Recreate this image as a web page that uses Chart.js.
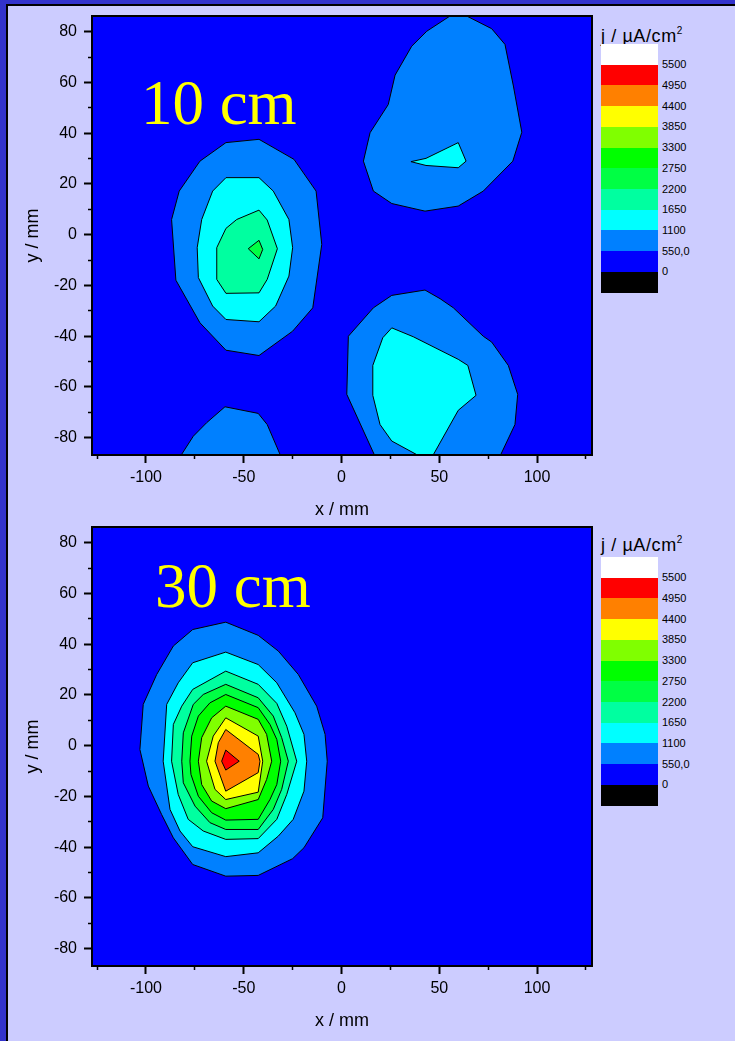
<!DOCTYPE html>
<html>
<head>
<meta charset="utf-8">
<script src="https://cdn.jsdelivr.net/npm/chart.js@4.4.1/dist/chart.umd.min.js"></script>
<style>
  body { margin:0; width:735px; height:1041px; background:#ccccff; position:relative; overflow:hidden;
         font-family:"Liberation Sans", Arial, sans-serif; }
  .bandTop { position:absolute; left:0; top:0; width:735px; height:4px; background:#3333cc; }
  .bandLeft { position:absolute; left:0; top:0; width:6px; height:1041px; background:#3333cc; }
  .lineTop { position:absolute; left:6px; top:4px; width:729px; height:1.5px; background:#000; }
  .lineLeft { position:absolute; left:6px; top:4px; width:2px; height:1037px; background:#000; }
  canvas { position:absolute; left:0; }
  .cbar { position:absolute; left:601px; width:130px; }
  .cbar .ttl { position:absolute; left:0; white-space:nowrap; font-size:18px; line-height:18px; letter-spacing:0.6px; color:#000; }
  .cbar .ttl sup { font-size:10px; vertical-align:8px; line-height:0; letter-spacing:0; }
  .cbar .box { position:absolute; left:0; width:57px; }
  .cbar .lab { position:absolute; left:61px; font-size:11px; line-height:11px; color:#000; }
</style>
</head>
<body>
<div class="bandTop"></div><div class="bandLeft"></div><div class="lineTop"></div><div class="lineLeft"></div>
<canvas id="map10" width="600" height="525" style="top:0px"></canvas>
<canvas id="map30" width="600" height="525" style="top:511px"></canvas>
<div class="cbar" id="bar10" style="top:44px"></div>
<div class="cbar" id="bar30" style="top:557px"></div>
<script>
// contour levels (µA/cm²) and the colour of each band (below 0, 0-550, ..., above 5500)
const levels = [0, 550, 1100, 1650, 2200, 2750, 3300, 3850, 4400, 4950, 5500];
const levelLabels = ['0', '550,0', '1100', '1650', '2200', '2750', '3300', '3850', '4400', '4950', '5500'];
const bandColors = ['#000000', '#0000ff', '#0080ff', '#00ffff', '#00ffa0', '#00ff44', '#00ff00',
                    '#80ff00', '#ffff00', '#ff8000', '#ff0000', '#ffffff'];

// axes
const xMin = -127.6, xMax = 128.1;
const yMin = -86.8, yMax = 86.2;
const xMajorTicks = [-100, -50, 0, 50, 100];
const xMinorTicks = [-125, -75, -25, 25, 75, 125];
const yMajorTicks = [-80, -60, -40, -20, 0, 20, 40, 60, 80];
const yMinorTicks = [-70, -50, -30, -10, 10, 30, 50, 70];

// 10 cm map: contour polygons [x mm, y mm]
const c10_left550 = [[-59.1,36.3],[-42.2,37.6],[-24.3,29.7],[-13.0,17.2],[-10.1,-3.8],[-14.7,-28.8],[-25.0,-38.0],[-42.2,-47.6],[-59.1,-45.5],[-72.4,-34.7],[-84.7,-17.9],[-86.9,6.0],[-83.0,17.2],[-72.4,29.0]];
const c10_left1100 = [[-59.1,22.5],[-42.2,22.5],[-34.9,17.2],[-26.9,6.0],[-25.0,-5.1],[-26.9,-16.3],[-33.7,-28.1],[-42.2,-34.3],[-59.1,-33.4],[-65.9,-28.1],[-73.2,-16.9],[-73.8,-5.1],[-71.5,6.0],[-65.9,17.2]];
const c10_left1650 = [[-42.2,9.7],[-38.0,5.8],[-32.8,-5.5],[-38.0,-17.6],[-42.2,-22.9],[-59.1,-23.1],[-63.8,-17.6],[-63.8,-5.1],[-59.1,2.5],[-53.6,6.0]];
const c10_left2200 = [[-47.7,-5.5],[-42.2,-2.2],[-40.3,-5.8],[-42.2,-9.5]];
const c10_upper550 = [[55.5,86.2],[64.0,86.2],[76.8,81.2],[83.6,75.0],[87.9,58.6],[92.2,40.4],[87.6,29.0],[72.5,17.2],[59.7,11.3],[42.7,9.3],[25.7,12.3],[16.3,17.2],[11.2,29.0],[14.6,40.2],[23.9,51.3],[27.4,62.9],[35.9,74.3],[43.6,80.2]];
const c10_upper1100 = [[35.5,28.8],[43.2,30.1],[59.7,36.3],[63.7,29.0],[59.7,26.4],[43.2,27.3]];
const c10_lower550 = [[21.7,-95],[2.7,-62.9],[3.5,-40.0],[16.3,-28.8],[25.7,-23.9],[42.7,-21.8],[50.4,-25.2],[57.2,-28.8],[72.5,-40.0],[76.8,-42.3],[85.3,-51.5],[90.1,-62.9],[88.7,-74.8],[76.3,-95]];
const c10_lower1100 = [[25.7,-36.7],[36.7,-40.2],[59.7,-49.1],[64.6,-51.5],[68.8,-63.3],[59.7,-69.2],[46.0,-88],[41.7,-88],[25.7,-81.3],[19.7,-74.8],[16.0,-63.3],[16.0,-51.5],[21.1,-40.6]];
const c10_corner550 = [[-86.3,-92],[-75.8,-79.4],[-69.0,-74.1],[-59.6,-67.8],[-42.6,-70.4],[-38.0,-74.8],[-28.4,-92]];

// 30 cm map
const c30_550 = [[-59.2,48.7],[-42.6,43.5],[-32.3,37.3],[-22.1,28.1],[-12.7,15.6],[-8.4,4.5],[-7.3,-6.1],[-9.6,-28.4],[-19.2,-40.2],[-25.0,-44.5],[-42.6,-51.1],[-59.2,-51.4],[-76.1,-46.8],[-86.0,-36.3],[-92.0,-27.1],[-98.8,-15.9],[-103.1,-1.5],[-101.4,16.3],[-94.5,28.1],[-86.0,39.3],[-76.1,45.8]];
const c30_1100 = [[-59.2,36.9],[-42.6,32.0],[-33.1,24.8],[-23.8,13.0],[-19.2,4.5],[-17.8,-6.1],[-19.2,-17.9],[-24.7,-29.0],[-32.3,-35.6],[-42.6,-42.2],[-59.2,-43.7],[-76.1,-39.8],[-82.6,-33.6],[-87.7,-25.1],[-91.2,-6.1],[-89.4,16.3],[-83.5,24.8],[-76.1,32.7]];
const c30_1650 = [[-59.2,29.4],[-42.6,24.2],[-33.1,16.7],[-28.0,7.7],[-22.9,-6.1],[-28.0,-19.2],[-33.1,-29.0],[-42.6,-36.6],[-59.2,-36.9],[-70.7,-33.6],[-78.4,-29.0],[-83.5,-19.2],[-86.9,-6.1],[-86.0,8.4],[-81.7,15.6],[-76.1,22.2]];
const c30_2200 = [[-59.2,24.2],[-42.6,18.9],[-34.9,11.7],[-30.6,3.2],[-27.2,-6.1],[-30.6,-17.2],[-34.9,-25.1],[-42.6,-33.0],[-59.2,-33.0],[-67.3,-30.3],[-74.9,-23.8],[-80.9,-14.6],[-81.7,-6.1],[-80.9,5.1],[-75.8,16.3],[-70.7,20.2]];
const c30_2750 = [[-59.2,20.2],[-42.6,15.0],[-36.6,8.4],[-33.1,2.5],[-31.1,-6.1],[-33.1,-15.3],[-36.6,-21.2],[-42.6,-29.0],[-59.2,-29.3],[-66.4,-26.4],[-73.2,-19.9],[-77.0,-11.3],[-77.5,-6.1],[-76.6,3.8],[-73.2,11.7],[-67.3,16.9]];
const c30_3300 = [[-59.2,15.6],[-42.6,10.4],[-38.3,4.5],[-35.7,-6.1],[-38.3,-13.3],[-42.6,-21.2],[-59.2,-24.8],[-66.4,-21.8],[-71.5,-15.3],[-73.2,-6.1],[-71.5,3.2],[-66.4,11.0]];
const c30_3850 = [[-59.2,11.0],[-42.6,3.8],[-40.3,-6.1],[-42.6,-18.3],[-59.2,-21.2],[-64.7,-17.2],[-69.0,-6.1],[-65.6,3.8]];
const c30_4400 = [[-59.2,6.4],[-42.6,-3.4],[-41.7,-6.1],[-42.6,-10.6],[-59.2,-17.9],[-64.7,-6.1],[-63.0,1.2]];
const c30_4950 = [[-59.2,-1.7],[-52.3,-6.1],[-59.2,-9.6],[-61.3,-6.1]];

const map10 = [
  {level: 550, pts: c10_left550}, {level: 550, pts: c10_upper550}, {level: 550, pts: c10_lower550}, {level: 550, pts: c10_corner550},
  {level: 1100, pts: c10_left1100}, {level: 1100, pts: c10_upper1100}, {level: 1100, pts: c10_lower1100},
  {level: 1650, pts: c10_left1650}, {level: 2200, pts: c10_left2200}
];
const map30 = [
  {level: 550, pts: c30_550}, {level: 1100, pts: c30_1100}, {level: 1650, pts: c30_1650},
  {level: 2200, pts: c30_2200}, {level: 2750, pts: c30_2750}, {level: 3300, pts: c30_3300},
  {level: 3850, pts: c30_3850}, {level: 4400, pts: c30_4400}, {level: 4950, pts: c30_4950}
];

Chart.defaults.font.family = '"Liberation Sans", Arial, sans-serif';
Chart.defaults.color = '#000';

function bandColor(level) {
  return bandColors[levels.indexOf(level) + 1];
}

// blue background of the map, black frame and the distance label
const framePlugin = {
  id: 'frame',
  beforeDatasetsDraw(chart) {
    const a = chart.chartArea, ctx = chart.ctx;
    ctx.save();
    ctx.fillStyle = bandColors[1];
    ctx.fillRect(a.left, a.top, a.width, a.height);
    ctx.restore();
  },
  afterDatasetsDraw(chart, args, opts) {
    const a = chart.chartArea, ctx = chart.ctx;
    ctx.save();
    ctx.fillStyle = '#ffff00';
    ctx.font = '63px "Liberation Serif", "Times New Roman", serif';
    ctx.textBaseline = 'alphabetic';
    ctx.fillText(opts.text, chart.scales.x.getPixelForValue(opts.x), chart.scales.y.getPixelForValue(opts.y));
    ctx.strokeStyle = '#000';
    ctx.lineWidth = 2;
    ctx.strokeRect(a.left, a.top, a.width, a.height);
    ctx.restore();
  }
};

function makeMap(id, contours, label, lx, ly) {
  const datasets = contours.map((c, i) => ({
    data: c.pts.concat([c.pts[0]]).map(p => ({x: p[0], y: p[1]})),
    showLine: true,
    fill: 'shape',
    backgroundColor: bandColor(c.level),
    borderColor: '#000',
    borderWidth: 1,
    pointRadius: 0,
    pointHoverRadius: 0,
    tension: 0,
    order: -i
  }));
  const tickFont = {size: 16};
  new Chart(document.getElementById(id), {
    type: 'scatter',
    data: {datasets},
    plugins: [framePlugin],
    options: {
      responsive: false,
      devicePixelRatio: 1,
      animation: false,
      events: [],
      layout: {padding: {left: 0, right: 8, top: 16, bottom: 0}},
      plugins: {
        legend: {display: false},
        tooltip: {enabled: false},
        frame: {text: label, x: lx, y: ly}
      },
      scales: {
        x: {
          type: 'linear', position: 'bottom', min: xMin, max: xMax, weight: 1,
          afterBuildTicks: s => { s.ticks = xMajorTicks.map(v => ({value: v})); },
          afterFit: s => { s.height = 70; s.paddingLeft = 0; s.paddingRight = 0; },
          grid: {drawOnChartArea: false, drawTicks: true, tickLength: 8, tickWidth: 2, tickColor: '#000'},
          border: {display: false},
          ticks: {autoSkip: false, maxRotation: 0, padding: 5, font: tickFont},
          title: {display: true, text: 'x / mm', font: {size: 18}, padding: {top: 0, bottom: 4}}
        },
        xMinor: {
          type: 'linear', position: 'bottom', min: xMin, max: xMax, weight: 0,
          afterBuildTicks: s => { s.ticks = xMinorTicks.map(v => ({value: v})); },
          afterFit: s => { s.height = 0; s.paddingLeft = 0; s.paddingRight = 0; },
          grid: {drawOnChartArea: false, drawTicks: true, tickLength: 4, tickWidth: 1.5, tickColor: '#000'},
          border: {display: false},
          ticks: {display: false}
        },
        y: {
          type: 'linear', position: 'left', min: yMin, max: yMax, weight: 1,
          afterBuildTicks: s => { s.ticks = yMajorTicks.map(v => ({value: v})); },
          afterFit: s => { s.width = 92; s.paddingTop = 0; s.paddingBottom = 0; },
          grid: {drawOnChartArea: false, drawTicks: true, tickLength: 8, tickWidth: 2, tickColor: '#000'},
          border: {display: false},
          ticks: {autoSkip: false, padding: 7, font: tickFont},
          title: {display: true, text: 'y / mm', font: {size: 18}, padding: {top: 22, bottom: 0}}
        },
        yMinor: {
          type: 'linear', position: 'left', min: yMin, max: yMax, weight: 0,
          afterBuildTicks: s => { s.ticks = yMinorTicks.map(v => ({value: v})); },
          afterFit: s => { s.width = 0; s.paddingTop = 0; s.paddingBottom = 0; },
          grid: {drawOnChartArea: false, drawTicks: true, tickLength: 4, tickWidth: 1.5, tickColor: '#000'},
          border: {display: false},
          ticks: {display: false}
        }
      }
    }
  });
}

function makeColorbar(id, titleTop) {
  const el = document.getElementById(id);
  const h = 20.7;
  const ttl = document.createElement('div');
  ttl.className = 'ttl';
  ttl.style.top = titleTop + 'px';
  ttl.innerHTML = 'j / µA/cm<sup>2</sup>';
  el.appendChild(ttl);
  const colors = bandColors.slice().reverse();
  colors.forEach((c, i) => {
    const b = document.createElement('div');
    b.className = 'box';
    b.style.top = (i * h) + 'px';
    b.style.height = (h + 0.5) + 'px';
    b.style.background = c;
    el.appendChild(b);
  });
  const labs = levelLabels.slice().reverse();
  labs.forEach((t, i) => {
    const l = document.createElement('div');
    l.className = 'lab';
    l.style.top = ((i + 1) * h - 5.4) + 'px';
    l.textContent = t;
    el.appendChild(l);
  });
}

makeMap('map10', map10, '10 cm', -102.6, 43.6);
makeMap('map30', map30, '30 cm', -95.4, 54.7);
makeColorbar('bar10', -17.3);
makeColorbar('bar30', -20.6);
</script>
</body>
</html>
